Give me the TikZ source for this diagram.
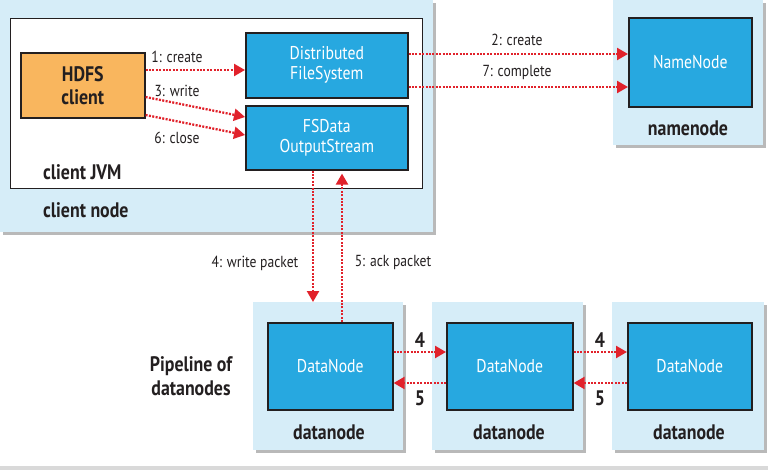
\documentclass[tikz,border=0pt]{standalone}
\usepackage{fontspec}
\setmainfont{PT Sans}[FakeStretch=0.85]
\usetikzlibrary{arrows.meta,shadows}

\definecolor{hostblue}{HTML}{D6EDF8}
\definecolor{procblue}{HTML}{27A8E0}
\definecolor{clientorange}{HTML}{F9B65E}
\definecolor{msgred}{HTML}{E1222B}
\definecolor{ink}{HTML}{231F20}

\tikzset{
  host/.style={fill=hostblue, inner sep=0pt, anchor=north west,
    drop shadow={shadow xshift=3pt, shadow yshift=-3pt, fill=black!50, opacity=0.55}},
  jvm/.style={fill=white, draw=ink, line width=1.4pt, inner sep=0pt, anchor=north west},
  client/.style={fill=clientorange, draw=ink, line width=1.6pt, inner sep=0pt, anchor=north west,
    align=center, text=ink, font=\fontsize{21}{23}\selectfont\bfseries},
  proc/.style={fill=procblue, draw=ink, line width=1.6pt, inner sep=0pt, anchor=north west,
    align=center, text=white, font=\fontsize{18.5}{20}\selectfont},
  hostlabel/.style={inner sep=0pt, text=ink, font=\fontsize{21}{24}\selectfont\bfseries},
  msglabel/.style={inner sep=0pt, text=ink, font=\fontsize{16}{18}\selectfont},
  msg/.style={draw=msgred, line width=2.3pt, dash pattern=on 2pt off 1.4pt,
    -{Triangle[length=11pt,width=12pt]}}
}

\begin{document}
\begin{tikzpicture}[x=1pt,y=-1pt]
\useasboundingbox (0,0) rectangle (768,470);
\fill[black!15] (0,466) rectangle (768,470);
% hosts
\node[host, minimum width=433pt, minimum height=232pt] (clienthost) at (0,0) {};
\node[host, minimum width=150pt, minimum height=145pt] (namehost) at (613,0) {};
\node[host, minimum width=150pt, minimum height=148pt] (dnhostA) at (253,302) {};
\node[host, minimum width=151pt, minimum height=148pt] (dnhostB) at (432,302) {};
\node[host, minimum width=152pt, minimum height=148pt] (dnhostC) at (612,302) {};
% client JVM and its objects
\node[jvm, minimum width=412pt, minimum height=170pt] (jvm) at (10,18) {};
\node[client, minimum width=124pt, minimum height=65pt] (hdfs) at (20,52) {HDFS\\client};
\node[proc, minimum width=162pt, minimum height=65pt] (dfs) at (245,32) {Distributed\\FileSystem};
\node[proc, minimum width=162pt, minimum height=64pt] (fsdos) at (245,105) {FSData\\OutputStream};
% namenode and datanodes
\node[proc, minimum width=123pt, minimum height=89pt] (namenode) at (628,17) {NameNode};
\node[proc, minimum width=125pt, minimum height=87pt] (dnA) at (267,322) {DataNode};
\node[proc, minimum width=126pt, minimum height=87pt] (dnB) at (446,322) {DataNode};
\node[proc, minimum width=124pt, minimum height=87pt] (dnC) at (627,322) {DataNode};
% host labels
\node[hostlabel, anchor=west] (jvmlabel) at (43,172) {client JVM};
\node[hostlabel, anchor=west] (clientlabel) at (43,210) {client node};
\node[hostlabel] (namelabel) at (688,128) {namenode};
\node[hostlabel] (dnlabelA) at (329,432) {datanode};
\node[hostlabel] (dnlabelB) at (509,432) {datanode};
\node[hostlabel] (dnlabelC) at (689,432) {datanode};
\node[hostlabel, align=center] (pipeline) at (191,376) {Pipeline of\\datanodes};
% messages
\draw[msg] (hdfs.east |- 0,70) -- (dfs.west |- 0,70);
\node[msglabel] (lblA) at (177,57) {1: create};
\draw[msg] (dfs.east |- 0,54) -- (namenode.west |- 0,54);
\node[msglabel] (lblB) at (517,40) {2: create};
\draw[msg] (hdfs.east |- 0,97) -- (fsdos.west |- 0,117);
\node[msglabel] (lblC) at (177,91) {3: write};
\draw[msg] (fsdos.south -| 313,0) -- (dnhostA.north -| 313,0);
\node[msglabel] (lblD) at (255,263) {4: write packet};
\draw[msg] (dnA.north -| 342,0) -- ([yshift=-3pt]fsdos.south -| 342,0);
\node[msglabel] (lblE) at (393,263) {5: ack packet};
\draw[msg] (hdfs.east |- 0,115) -- (fsdos.west |- 0,135);
\node[msglabel] (lblF) at (177,138) {6: close};
\draw[msg] (dfs.east |- 0,87) -- (namenode.west |- 0,87);
\node[msglabel] (lblG) at (517,73) {7: complete};
% pipeline
\draw[msg] (dnA.east |- 0,352) -- (dnB.west |- 0,352);
\draw[msg] (dnB.west |- 0,383) -- (dnA.east |- 0,383);
\draw[msg] (dnB.east |- 0,352) -- (dnC.west |- 0,352);
\draw[msg] (dnC.west |- 0,383) -- (dnB.east |- 0,383);
\node[hostlabel] (fwdA) at (420,340) {4};
\node[hostlabel] (ackA) at (420,398) {5};
\node[hostlabel] (fwdB) at (600,340) {4};
\node[hostlabel] (ackB) at (600,398) {5};
\end{tikzpicture}
\end{document}
